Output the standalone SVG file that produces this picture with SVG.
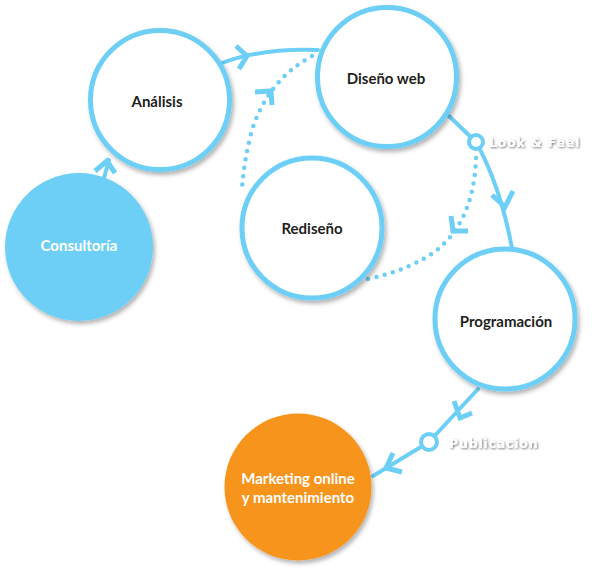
<svg xmlns="http://www.w3.org/2000/svg" width="594" height="568" viewBox="0 0 594 568">
<defs>
<filter id="sh" x="-20%" y="-20%" width="140%" height="140%">
<feDropShadow dx="2" dy="3" stdDeviation="2" flood-color="#000" flood-opacity="0.3"/>
</filter>
<filter id="tsh" x="-10%" y="-30%" width="120%" height="160%">
<feDropShadow dx="1" dy="1" stdDeviation="1" flood-color="#000" flood-opacity="0.55"/>
</filter>
<style>
.ring{fill:#fff;stroke:#6dcff6;stroke-width:5;filter:url(#sh)}
.fill{stroke:none;filter:url(#sh)}
.lbl{font-family:Lato,"Open Sans",sans-serif;font-weight:700;font-size:15px;text-anchor:middle;fill:#231f20}
.wl{fill:#fff}
.ln{fill:none;stroke:#6dcff6;stroke-width:4;stroke-linecap:round;stroke-linejoin:round}
.dot{fill:none;stroke:#6dcff6;stroke-width:4.5;stroke-linecap:round;stroke-dasharray:0 8.5}
.chev{fill:none;stroke:#6dcff6;stroke-width:5;stroke-linecap:butt;stroke-linejoin:miter}
.knob{fill:#fff;stroke:#6dcff6;stroke-width:4}
.tag{font-family:"DejaVu Sans",sans-serif;font-weight:700;font-size:12.5px;fill:#fff;letter-spacing:0.8px;filter:url(#tsh)}
</style>
</defs>
<g id="connectors">
<path class="ln" d="M104,178 L109,160"/>
<path class="chev" d="M95,171 L107,161 L115,173"/>
<path class="ln" d="M222,63 Q262,48 318,50"/>
<path class="chev" d="M236,46 L247,56 L239,69"/>
<path class="ln" d="M449,116 L476,142"/>
<path class="ln" d="M476,142 Q500,185 512,248"/>
<path class="chev" d="M492,195 L505,207 L513,191"/>
<path class="ln" d="M478,389 L429,442 L373,476"/>
<path class="chev" d="M454,401 L460,418 L472,413"/>
<path class="chev" d="M393,453 L386,468 L402,472"/>
<path class="dot" d="M312,56 Q268,80 252,130 Q244,160 242,188"/>
<path class="chev" d="M255,92 L271,91 L272,105"/>
<path class="dot" d="M476,158 Q474,220 437,250 Q410,270 368,279"/>
<path class="chev" d="M451,216 L453,231 L468,231"/>
<circle class="knob" cx="476" cy="142" r="7"/>
<circle class="knob" cx="429" cy="442" r="8"/>
<text class="tag" x="489" y="147">Look &amp; Feel</text>
<text class="tag" x="449" y="448">Publicacion</text>
</g>
<g id="consultoria">
<circle class="fill" cx="79" cy="247" r="74" fill="#6dcff6"/>
<text class="lbl wl" x="79" y="251">Consultoría</text>
</g>
<g id="analisis">
<circle class="ring" cx="160" cy="100" r="69.5"/>
<text class="lbl" x="157" y="107">Análisis</text>
</g>
<g id="diseno">
<circle class="ring" cx="387" cy="77" r="69.5"/>
<text class="lbl" x="386" y="84">Diseño web</text>
</g>
<g id="rediseno">
<circle class="ring" cx="312" cy="228" r="70"/>
<text class="lbl" x="312" y="234">Rediseño</text>
</g>
<g id="programacion">
<circle class="ring" cx="505" cy="319" r="70"/>
<text class="lbl" x="506" y="327">Programación</text>
</g>
<g id="marketing">
<circle class="fill" cx="298" cy="487" r="73.5" fill="#f7941e"/>
<text class="lbl wl" x="298" y="484">Marketing online</text>
<text class="lbl wl" x="298" y="503">y mantenimiento</text>
</g>
</svg>
